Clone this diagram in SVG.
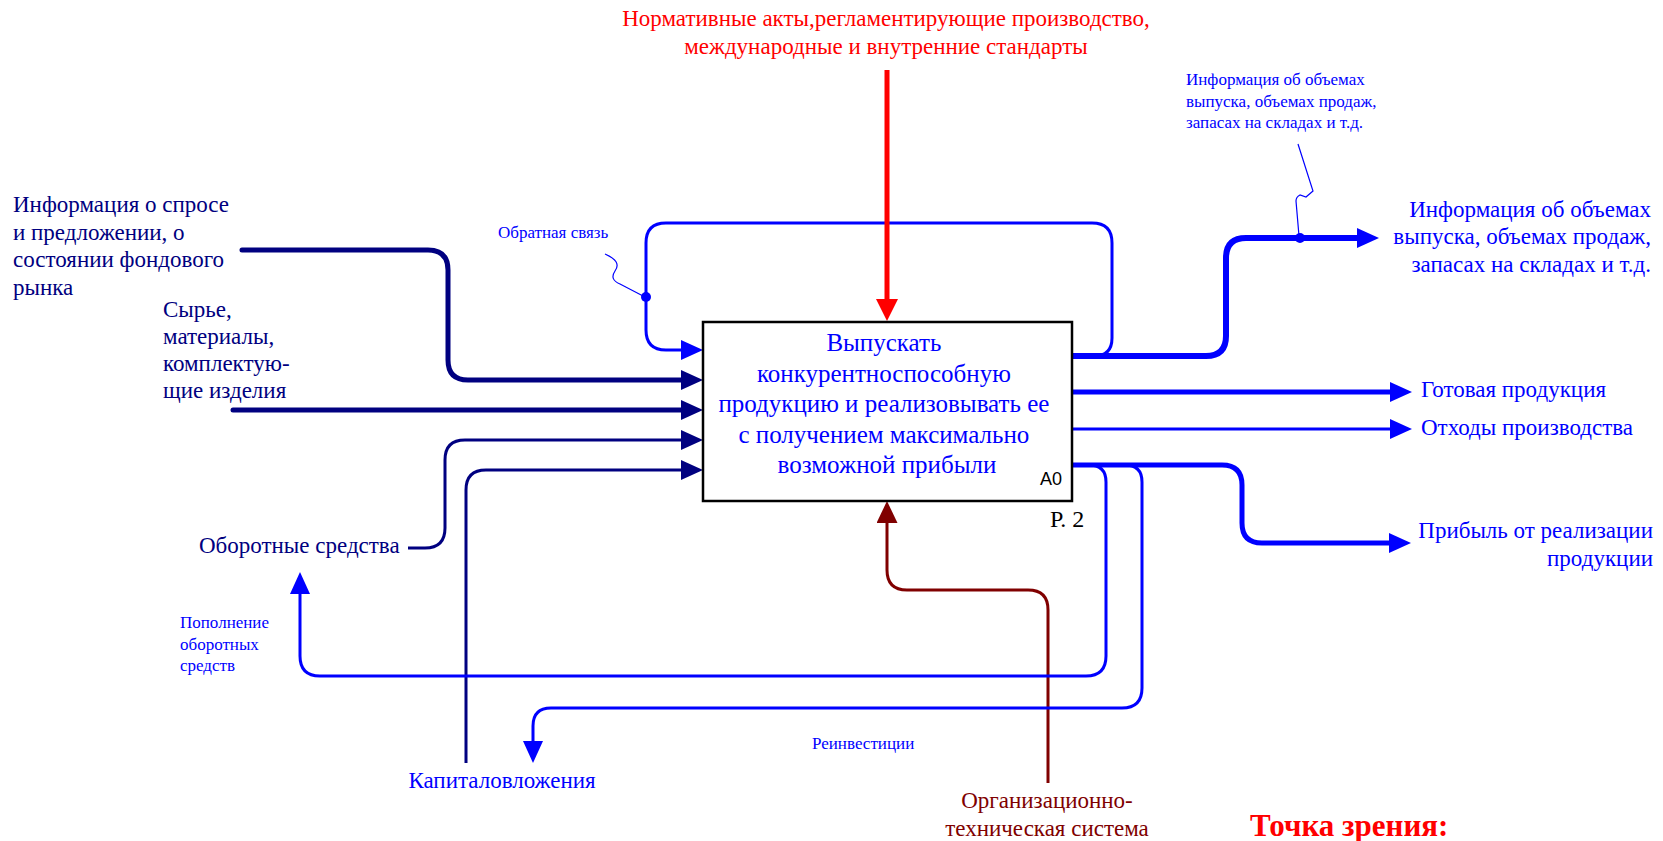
<svg xmlns="http://www.w3.org/2000/svg" width="1663" height="841" viewBox="0 0 1663 841">
<style>
  text { font-family: "Liberation Serif", "Times New Roman", serif; }
  .lbl { font-size: 23px; }
  .sm { font-size: 17px; fill: #0000FF; }
  .navy { fill: #000080; }
  .blue { fill: #0000FF; }
  .red { fill: #FF0000; }
  .dred { fill: #800000; }
  .ln { fill: none; stroke-linejoin: round; }
  .lnNavy { stroke: #000080; }
  .lnBlue { stroke: #0000FF; }
  .thick { stroke-width: 5; }
  .thin { stroke-width: 3; }
</style>
<defs>
  <marker id="aNavy" markerUnits="userSpaceOnUse" viewBox="0 0 22 20" markerWidth="22" markerHeight="20" refX="0" refY="10" orient="auto"><path d="M0,0 L22,10 L0,20 Z" fill="#000080"/></marker>
  <marker id="aBlue" markerUnits="userSpaceOnUse" viewBox="0 0 22 20" markerWidth="22" markerHeight="20" refX="0" refY="10" orient="auto"><path d="M0,0 L22,10 L0,20 Z" fill="#0000FF"/></marker>
  <marker id="aRed" markerUnits="userSpaceOnUse" viewBox="0 0 22 22" markerWidth="22" markerHeight="22" refX="0" refY="11" orient="auto"><path d="M0,0 L22,11 L0,22 Z" fill="#FF0000"/></marker>
  <marker id="aDred" markerUnits="userSpaceOnUse" viewBox="0 0 22 21" markerWidth="22" markerHeight="21" refX="0" refY="10.5" orient="auto"><path d="M0,0 L22,10.5 L0,21 Z" fill="#800000"/></marker>
</defs>

<g id="connectors">
  <!-- inputs -->
  <path class="ln lnNavy thick" stroke-linecap="round" d="M242,250 L428,250 Q448,250 448,270 L448,360 Q448,380 468,380 L681,380" marker-end="url(#aNavy)"/>
  <path class="ln lnNavy thick" stroke-linecap="round" d="M233,410 L681,410" marker-end="url(#aNavy)"/>
  <path class="ln lnNavy thin" d="M408,548 L425,548 Q445,548 445,528 L445,460 Q445,440 465,440 L681,440" marker-end="url(#aNavy)"/>
  <path class="ln lnNavy thin" d="M466,763 L466,490 Q466,470 486,470 L681,470" marker-end="url(#aNavy)"/>
  <!-- feedback -->
  <path class="ln lnBlue thin" d="M1094,356 Q1112,356 1112,338 L1112,243 Q1112,223 1092,223 L666,223 Q646,223 646,243 L646,330 Q646,350 666,350 L681,350" marker-end="url(#aBlue)"/>
  <circle cx="646" cy="297" r="5" fill="#0000FF"/>
  <path fill="none" stroke="#0000FF" stroke-width="1.2" d="M605,254 C616,259 620,264 615,271 C611,277 613,281 620,284 L645,297"/>
  <!-- control -->
  <path class="ln" stroke="#FF0000" stroke-width="5" d="M887,70 L887,299" marker-end="url(#aRed)"/>
  <!-- mechanism -->
  <path class="ln" stroke="#800000" stroke-width="3" d="M1048,783 L1048,610 Q1048,590 1028,590 L907,590 Q887,590 887,570 L887,523" marker-end="url(#aDred)"/>
  <!-- outputs -->
  <path class="ln lnBlue" stroke-width="6" d="M1072,356 L1206,356 Q1226,356 1226,336 L1226,258 Q1226,238 1246,238 L1357,238" marker-end="url(#aBlue)"/>
  <circle cx="1300" cy="238" r="5" fill="#0000FF"/>
  <path fill="none" stroke="#0000FF" stroke-width="1.2" d="M1298,144 L1313,191 L1306,197 L1300,195 Q1296,197 1296,201 L1299,236"/>
  <path class="ln lnBlue thick" d="M1072,392 L1390,392" marker-end="url(#aBlue)"/>
  <path class="ln lnBlue thin" d="M1072,429 L1390,429" marker-end="url(#aBlue)"/>
  <path class="ln lnBlue thick" d="M1072,465 L1222,465 Q1242,465 1242,485 L1242,523 Q1242,543 1262,543 L1389,543" marker-end="url(#aBlue)"/>
  <!-- loops -->
  <path class="ln lnBlue thin" d="M1089,465 Q1106,465 1106,482 L1106,656 Q1106,676 1086,676 L320,676 Q300,676 300,656 L300,594" marker-end="url(#aBlue)"/>
  <path class="ln lnBlue thin" d="M1125,465 Q1142,465 1142,482 L1142,688 Q1142,708 1122,708 L551,708 Q533,708 533,726 L533,741" marker-end="url(#aBlue)"/>
</g>

<g id="node-A0">
  <rect x="703" y="322" width="369" height="179" fill="#FFFFFF" stroke="#000000" stroke-width="2.5"/>
  <text class="blue" font-size="25" text-anchor="middle">
    <tspan x="887" y="351">Выпускать</tspan>
    <tspan x="887" y="381.5">конкурентноспособную</tspan>
    <tspan x="887" y="412">продукцию и реализовывать ее</tspan>
    <tspan x="887" y="442.5">с получением максимально</tspan>
    <tspan x="887" y="473">возможной прибыли</tspan>
  </text>
  <text x="1062" y="485" style="font-family:'Liberation Sans', Arial, sans-serif" font-size="18" text-anchor="end" fill="#000000">A0</text>
  <text x="1050" y="527" font-size="24" fill="#000000">Р. 2</text>
</g>

<g id="labels">
  <text class="lbl red" text-anchor="middle"><tspan x="886" y="26">Нормативные акты,регламентирующие производство,</tspan><tspan x="886" y="54">международные и внутренние стандарты</tspan></text>
  <text class="lbl navy"><tspan x="13" y="212">Информация о спросе</tspan><tspan x="13" y="240">и предложении, о</tspan><tspan x="13" y="267">состоянии фондового</tspan><tspan x="13" y="295">рынка</tspan></text>
  <text class="lbl navy"><tspan x="163" y="317">Сырье,</tspan><tspan x="163" y="344">материалы,</tspan><tspan x="163" y="371">комплектую-</tspan><tspan x="163" y="398">щие изделия</tspan></text>
  <text class="lbl navy" x="199" y="553">Оборотные средства</text>
  <text class="lbl blue" x="502" y="788" text-anchor="middle">Капиталовложения</text>
  <text class="sm" x="498" y="238">Обратная связь</text>
  <text class="sm"><tspan x="180" y="628">Пополнение</tspan><tspan x="180" y="650">оборотных</tspan><tspan x="180" y="671">средств</tspan></text>
  <text class="sm" x="812" y="749">Реинвестиции</text>
  <text class="sm"><tspan x="1186" y="85">Информация об объемах</tspan><tspan x="1186" y="107">выпуска, объемах продаж,</tspan><tspan x="1186" y="128">запасах на складах и т.д.</tspan></text>
  <text class="lbl blue" text-anchor="end"><tspan x="1651" y="217">Информация об объемах</tspan><tspan x="1651" y="244">выпуска, объемах продаж,</tspan><tspan x="1651" y="272">запасах на складах и т.д.</tspan></text>
  <text class="lbl blue" x="1421" y="397">Готовая продукция</text>
  <text class="lbl blue" x="1421" y="435">Отходы производства</text>
  <text class="lbl blue" text-anchor="end"><tspan x="1653" y="538">Прибыль от реализации</tspan><tspan x="1653" y="566">продукции</tspan></text>
  <text class="lbl dred" text-anchor="middle"><tspan x="1047" y="808">Организационно-</tspan><tspan x="1047" y="836">техническая система</tspan></text>
  <text x="1250" y="836" font-size="31" font-weight="bold" fill="#FF0000">Точка зрения:</text>
</g>
</svg>
